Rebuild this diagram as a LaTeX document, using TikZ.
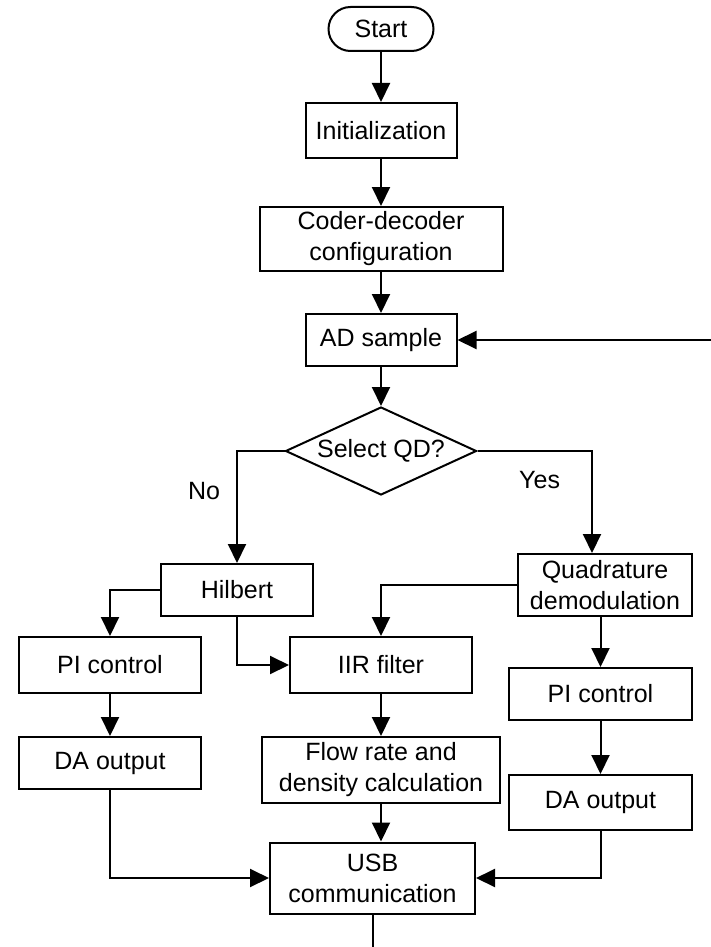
\documentclass[tikz,border=0pt]{standalone}
\usepackage{fontspec}
\setmainfont{Liberation Sans}
\usetikzlibrary{arrows.meta,positioning,shapes.geometric}

\begin{document}
\begin{tikzpicture}[node distance=50pt,on grid,auto,line width=1pt,
    >={Triangle[width=9pt,length=9.5pt]}]
  \tikzstyle{every node}=[font=\fontsize{12.5}{15.5}\selectfont]
  \tikzstyle{box}=[draw,rectangle,inner sep=0pt,align=center]
  \tikzstyle{decision}=[draw,diamond,aspect=2.17,inner sep=0pt,minimum width=95.5pt,minimum height=44pt]
  \tikzstyle{terminal}=[draw,rectangle,rounded corners=11pt,minimum width=52.5pt,minimum height=22pt]
  \tikzstyle{branch}=[inner sep=0pt]

  \useasboundingbox (0,0) rectangle (355.5pt,-473.5pt);

  \node[terminal] (start) at (190.5pt,-14.5pt) {Start};
  \node[box,minimum width=75.5pt,minimum height=27.5pt] (init) [below=50.75pt of start] {Initialization};
  \node[box,minimum width=121.5pt,minimum height=32pt] (coder) [below=54.25pt of init] {Coder-decoder\\configuration};
  \node[box,minimum width=75.5pt,minimum height=26pt] (ad) [below=50.5pt of coder] {AD sample};
  \node[decision] (qd) [below=55.5pt of ad] {Select QD?};

  \node[box,minimum width=76pt,minimum height=26pt] (hilbert) [below left=69.5pt and 72pt of qd] {Hilbert};
  \node[box,minimum width=87pt,minimum height=31pt] (quad) [below right=67pt and 112pt of qd] {Quadrature\\demodulation};

  \node[box,minimum width=91pt,minimum height=28pt] (iir) [below=107pt of qd] {IIR filter};
  \node[box,minimum width=91pt,minimum height=28pt] (pil) [left=135.5pt of iir] {PI control};
  \node[box,minimum width=91pt,minimum height=26pt] (dal) [below=49pt of pil] {DA output};
  \node[box,minimum width=119pt,minimum height=33pt] (flow) [below=52.5pt of iir] {Flow rate and\\density calculation};
  \node[box,minimum width=91.5pt,minimum height=26pt,xshift=-2.25pt] (pir) [below=54.5pt of quad] {PI control};
  \node[box,minimum width=91.5pt,minimum height=27.5pt] (dar) [below=54.25pt of pir] {DA output};
  \node[box,minimum width=102.5pt,minimum height=35.5pt,xshift=-4.25pt] (usb) [below=54pt of flow] {USB\\communication};

  \coordinate[right=127pt of ad.east] (loop);
  \coordinate[below=17pt of usb.south] (stop);

  \path[->]
  (start) edge (init)
  (init)  edge (coder)
  (coder) edge (ad)
  (ad)    edge (qd)
  (loop)  edge (ad)
  (iir)   edge (flow)
  (pil)   edge (dal)
  (pir)   edge (dar);

  \draw[->] (qd.west) -| node[branch,pos=0.68,left=8pt] {No} (hilbert);
  \draw[->] (qd.east) -| node[branch,pos=0.64,left=15.5pt] {Yes} ([xshift=-6.5pt]quad.north);
  \draw[->] (hilbert) -| (pil);
  \draw[->] (hilbert) |- (iir);
  \draw[->] (quad) -| (iir);
  \draw[->] (quad.south -| pir) -- (pir);
  \draw[->] (flow.south) -- (flow.south |- usb.north);
  \draw[->] (dal) |- (usb);
  \draw[->] (dar) |- (usb);
  \draw (usb) -- (stop);
\end{tikzpicture}
\end{document}
